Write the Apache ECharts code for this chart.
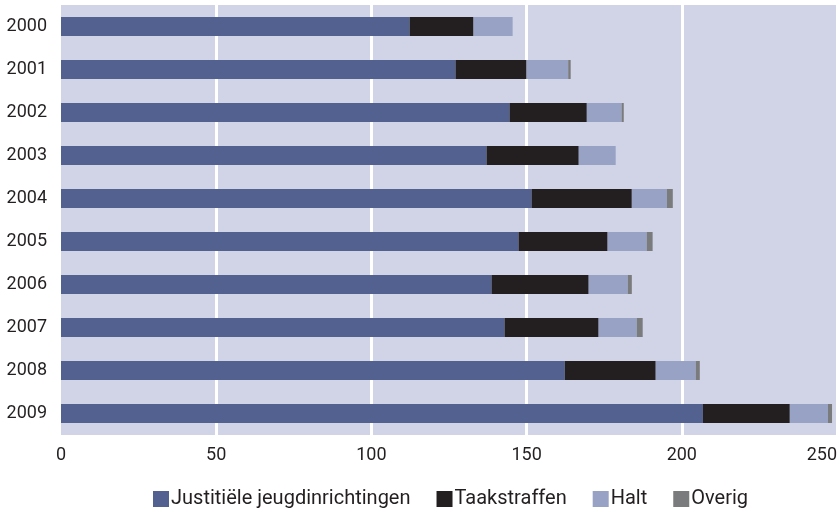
<!DOCTYPE html>
<html><head><meta charset="utf-8">
<script src="https://cdn.jsdelivr.net/npm/echarts@6/dist/echarts.min.js"></script>
<style>html,body{margin:0;padding:0;background:#fff}#c{width:840px;height:512px}</style>
</head><body><div id="c"></div>
<script>
const years = ['2000','2001','2002','2003','2004','2005','2006','2007','2008','2009'];
const justitieel = [112.3,127.1,144.5,137.1,151.6,147.4,138.7,142.9,162.3,206.8];
const taakstraffen = [20.6,22.9,24.9,29.7,32.3,28.7,31.3,30.3,29.3,28.0];
const halt = [12.6,13.4,11.2,11.9,11.3,12.6,12.6,12.3,12.9,12.3];
const overig = [0,0.8,0.7,0,1.9,1.9,1.3,1.9,1.3,1.3];
const xTicks = [0,50,100,150,200,250];

const chart = echarts.init(document.getElementById('c'), null, {renderer:'canvas'});
const font = 'Roboto, "Liberation Sans", sans-serif';
function s(name, data, color){
  return {name, type:'bar', stack:'t', data, barWidth:19, itemStyle:{color}, emphasis:{disabled:true}};
}
chart.setOption({
  animation:false,
  textStyle:{fontFamily:font},
  grid:{left:61, right:3, top:5, bottom:77, show:true, backgroundColor:'#d0d4e6', borderWidth:0},
  xAxis:{type:'value', min:xTicks[0], max:xTicks[xTicks.length-1], interval:50,
    axisLine:{show:false}, axisTick:{show:false},
    axisLabel:{fontSize:18, color:'#231f20', margin:11, fontFamily:font, alignMaxLabel:'right'},
    splitLine:{show:true, lineStyle:{color:['rgba(0,0,0,0)','#fff','#fff','#fff','#fff','#fff'], width:3}}},
  yAxis:{type:'category', data:years, inverse:true,
    axisLine:{show:false}, axisTick:{show:false},
    axisLabel:{fontSize:18, color:'#231f20', margin:14, fontFamily:font}},
  legend:{top:484, left:148, itemWidth:16, itemHeight:16, itemGap:26, icon:'rect',
    textStyle:{fontSize:20, color:'#231f20', fontFamily:font, padding:[0,0,0,-3]},
    data:['Justitiële jeugdinrichtingen','Taakstraffen','Halt','Overig']},
  series:[
    s('Justitiële jeugdinrichtingen', justitieel, '#52618f'),
    s('Taakstraffen', taakstraffen, '#231f20'),
    s('Halt', halt, '#98a2c4'),
    s('Overig', overig, '#7a7b7d')
  ]
});
</script></body></html>
